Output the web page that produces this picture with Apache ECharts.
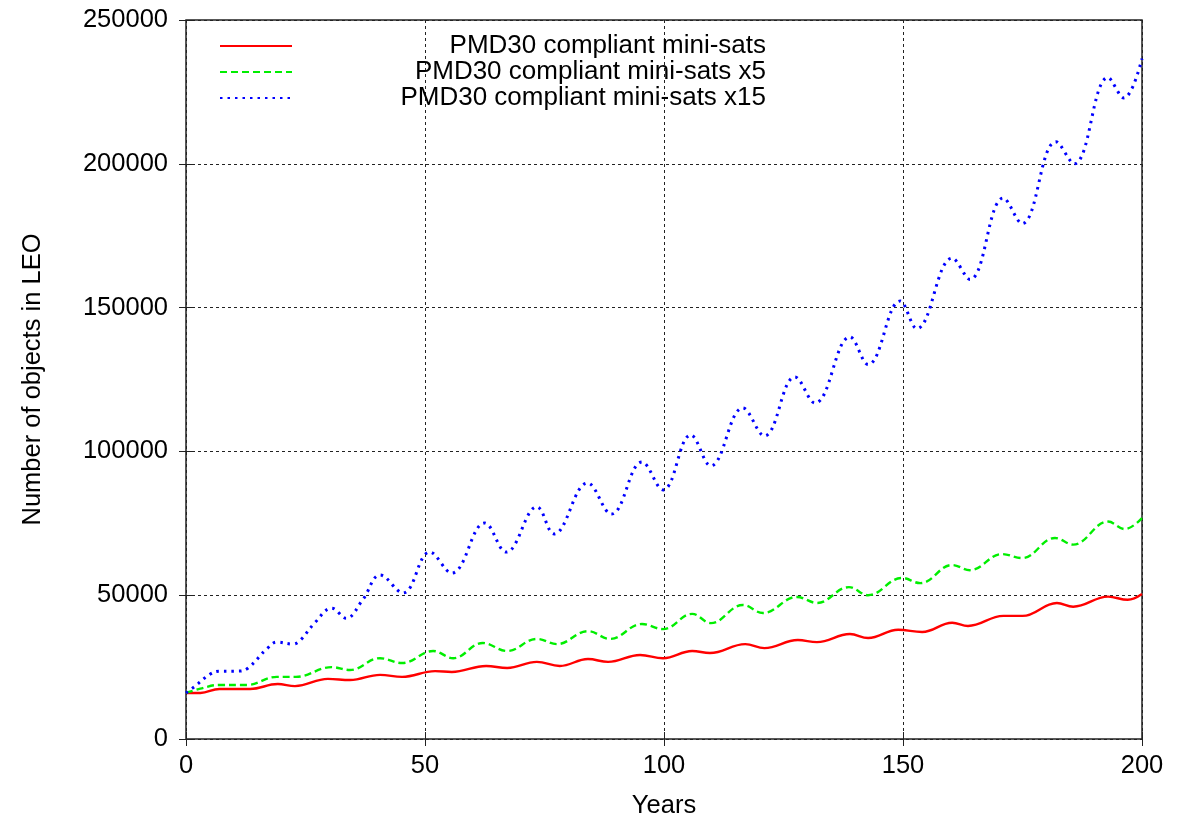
<!DOCTYPE html>
<html>
<head>
<meta charset="utf-8">
<script src="https://cdn.jsdelivr.net/npm/echarts@6/dist/echarts.min.js"></script>
<style>
html,body{margin:0;padding:0;background:#fff;}
#chart{width:1178px;height:819px;}
</style>
</head>
<body>
<div id="chart"></div>
<script>
// Series names
const seriesNames = [
  'PMD30 compliant mini-sats',
  'PMD30 compliant mini-sats x5',
  'PMD30 compliant mini-sats x15'
];
// [year, objects]
const baseline = [
  [0,16000],[3,16000],[7,17400],[13.4,17400],[19.2,19100],[22.8,18400],[29.7,20900],[34.3,20500],
  [40.6,22300],[45.2,21600],[52.1,23600],[55.6,23300],[62.8,25400],[67.2,24700],[73.4,26800],
  [78.2,25400],[84.1,27800],[88.3,26800],[95,29200],[99.8,28100],[105.9,30600],[109.6,29900],
  [117,33000],[121,31600],[128,34400],[132,33700],[138.9,36500],[142.7,35100],[149,38000],
  [154,37200],[160.3,40400],[163.6,39300],[171,42800],[175,42800],[182.2,47300],[185.6,46000],
  [192.9,49500],[197,48400],[200,50400]
];
const times5 = [
  [0,16000],[3,17500],[7,18800],[12.7,18800],[19,21600],[23,21600],[30.5,25000],[34.3,24000],
  [40.6,28100],[45.2,26400],[51.7,30600],[55.9,28100],[62.1,33400],[67.2,30600],[73.4,34800],
  [77.6,33000],[84.1,37500],[88.7,34800],[95.4,40000],[99.8,38200],[105.9,43500],[109.8,40300],
  [116.5,46600],[120.7,43800],[127.8,49400],[132,47300],[138.7,52800],[142.7,50000],[149.8,56000],
  [153.6,54200],[160.3,60500],[164,58700],[170.7,64300],[174.9,62900],[181.8,69900],[185.6,67600],
  [192.9,75600],[196.4,73000],[200,76800]
];
const times15 = [
  [0,16000],[2,18500],[5,22500],[7,23600],[11,23600],[13,24700],[17,31500],[19,33700],[22.4,33000],
  [24,34500],[27,40500],[30.5,45500],[33.5,42000],[37,48500],[40.6,57000],[45.4,50800],[51,65000],
  [55.6,57700],[62.5,75100],[67,65000],[73.4,80700],[77,71300],[84,89000],[89,78200],[95.4,96300],
  [99.8,86600],[105.6,105700],[109.8,95000],[116.5,115100],[121,105400],[127.4,125900],[131.6,116800],
  [138.9,139800],[142.7,130200],[149.4,152300],[152.9,142700],[160.3,167200],[164,159800],[171,188100],
  [174.9,179200],[182,207700],[185.8,200000],[192.9,230000],[196.2,222900],[200,236600]
];
const xTicks = {min:0, max:200, interval:50};
const yTicks = {min:0, max:250000, interval:50000};

const FONT = '"Liberation Sans", Arial, sans-serif';
const AX = 25.5;
const chart = echarts.init(document.getElementById('chart'), null, {renderer:'canvas'});
const gridLine = {show:true, lineStyle:{color:'#222', width:1, type:[3,3]}};
const tick = {show:true, inside:true, length:7, lineStyle:{color:'#222', width:1}};
chart.setOption({
  animation:false,
  backgroundColor:'#fff',
  grid:{left:186, right:36, top:20, bottom:80, containLabel:false, outerBoundsMode:'none',
        show:true, borderColor:'#222', borderWidth:1.5, backgroundColor:'transparent'},
  legend:{
    orient:'vertical', left:214, top:28, itemWidth:72, itemHeight:14, itemGap:0,
    data:seriesNames,
    itemStyle:{opacity:0},
    textStyle:{fontFamily:FONT, fontSize:26, color:'#000', lineHeight:25.5,
      rich:{a:{width:469, align:'right', fontFamily:FONT, fontSize:26, lineHeight:25.5, color:'#000'}}},
    formatter: n => '{a|' + n + '}'
  },
  xAxis:[{
    type:'value', min:xTicks.min, max:xTicks.max, interval:xTicks.interval,
    name:'Years', nameLocation:'middle', nameGap:54,
    nameTextStyle:{fontFamily:FONT, fontSize:AX, color:'#000'},
    axisLine:{show:false}, axisTick:tick, splitLine:gridLine,
    axisLabel:{fontFamily:FONT, fontSize:AX, color:'#000', margin:14}
  },{
    type:'value', position:'top', min:xTicks.min, max:xTicks.max, interval:xTicks.interval,
    axisLine:{show:false}, axisTick:tick, splitLine:{show:false}, axisLabel:{show:false}
  }],
  yAxis:[{
    type:'value', min:yTicks.min, max:yTicks.max, interval:yTicks.interval,
    name:'Number of objects in LEO', nameLocation:'middle', nameGap:140, nameRotate:90,
    nameTextStyle:{fontFamily:FONT, fontSize:AX, color:'#000'},
    axisLine:{show:false}, axisTick:tick, splitLine:gridLine,
    axisLabel:{fontFamily:FONT, fontSize:AX, color:'#000', margin:18, formatter: v => String(v)}
  },{
    type:'value', position:'right', min:yTicks.min, max:yTicks.max, interval:yTicks.interval,
    axisLine:{show:false}, axisTick:tick, splitLine:{show:false}, axisLabel:{show:false}
  }],
  series:[
    {name:seriesNames[0], type:'line', data:baseline, smooth:0.4, symbol:'none',
     lineStyle:{color:'#ff0000', width:2.4, type:'solid'}, itemStyle:{color:'#ff0000'}},
    {name:seriesNames[1], type:'line', data:times5, smooth:0.4, symbol:'none',
     lineStyle:{color:'#00ee00', width:2.4, type:[7,4]}, itemStyle:{color:'#00ee00'}},
    {name:seriesNames[2], type:'line', data:times15, smooth:0.4, symbol:'none',
     lineStyle:{color:'#0000ff', width:3, type:[2.5,5]}, itemStyle:{color:'#0000ff'}}
  ]
});
</script>
</body>
</html>
